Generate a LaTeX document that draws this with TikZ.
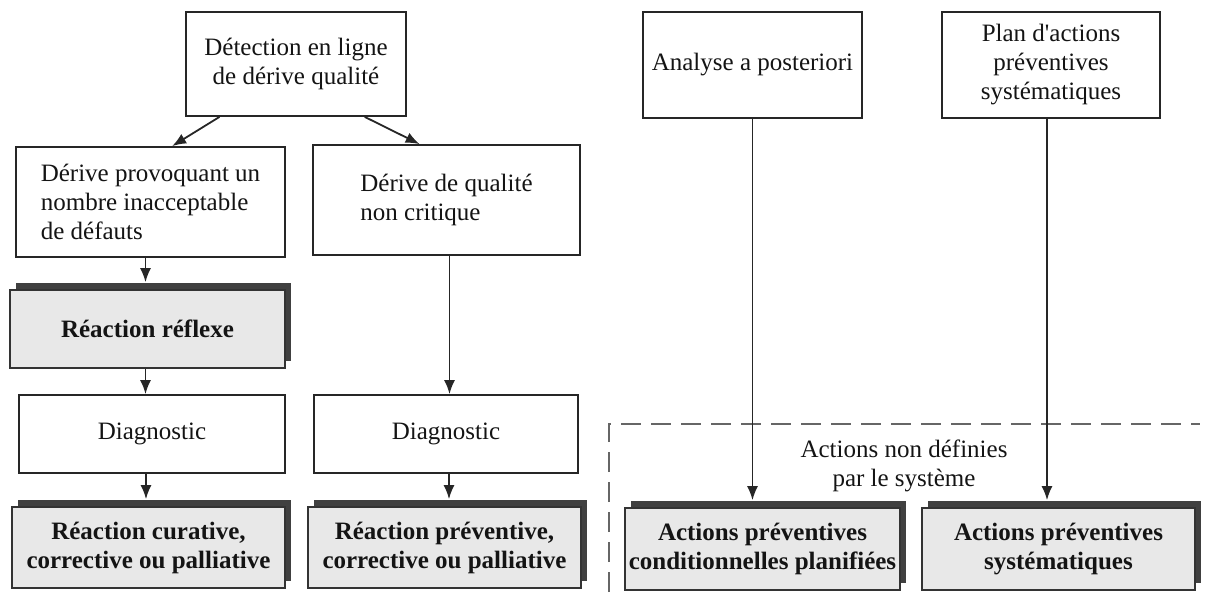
\documentclass[tikz,border=0pt]{standalone}
\usepackage{fontspec}
\setmainfont{Liberation Serif}
\usetikzlibrary{arrows.meta,shadows,calc}
\begin{document}
\begin{tikzpicture}[x=1pt,y=-1pt,
  every node/.style={font=\fontsize{25}{29}\selectfont, text=black!92},
  plainbox/.style={draw=black!85, line width=1.8pt, fill=white, inner sep=0pt, align=center},
  shadebox/.style={draw=black!80, line width=1.6pt, fill=black!9, inner sep=0pt, align=center,
    font=\fontsize{25}{29}\selectfont\bfseries,
    general shadow={fill=black!75, shadow xshift=6pt, shadow yshift=7pt}},
  arr/.style={draw=black!85, line width=1.8pt, -{Latex[length=14pt,width=11pt]}},
  zone/.style={draw=black!60, line width=1.2pt, dash pattern=on 20pt off 10pt}]
\useasboundingbox (0,0) rectangle (1205,598);

% left part
\node[plainbox, minimum width=220pt, minimum height=104pt] (det) at (296,64)
  {Détection en ligne\\de dérive qualité};
\node[plainbox, align=left, minimum width=269pt, minimum height=110pt] (dp) at (150.5,202)
  {Dérive provoquant un\\nombre inacceptable\\de défauts};
\node[plainbox, align=left, minimum width=267pt, minimum height=110pt] (dq) at (446.5,200)
  {Dérive de qualité\\non critique};
\node[shadebox, minimum width=275pt, minimum height=78pt] (refl) at (147.5,329)
  {Réaction réflexe};
\node[plainbox, minimum width=266pt, minimum height=78pt] (diagL) at (152,434) {Diagnostic};
\node[plainbox, minimum width=264pt, minimum height=78pt] (diagR) at (446,434) {Diagnostic};
\node[shadebox, minimum width=273pt, minimum height=81pt] (botL) at (148.5,547.5)
  {Réaction curative,\\corrective ou palliative};
\node[shadebox, minimum width=273pt, minimum height=81pt] (botR) at (444.5,547.5)
  {Réaction préventive,\\corrective ou palliative};

% right part
\node[plainbox, minimum width=219pt, minimum height=106pt] (ana) at (752.5,65)
  {Analyse a posteriori};
\node[plainbox, minimum width=218pt, minimum height=106pt] (plan) at (1051,65)
  {Plan d\textquotesingle actions\\préventives\\systématiques};
\node[shadebox, minimum width=275pt, minimum height=82pt] (ab1) at (762.5,549)
  {Actions préventives\\conditionnelles planifiées};
\node[shadebox, minimum width=273pt, minimum height=82pt] (ab2) at (1058.5,549)
  {Actions préventives\\systématiques};
\node[align=center] (nd) at (904,466) {Actions non définies\\par le système};

% dashed zone
\coordinate (z1) at (609,592);
\coordinate (z2) at (609,424);
\coordinate (z3) at (1200,424);
\draw[zone] (z1) -- (z2) -- (z3);

% connectors
\draw[arr] ($(det.south west)!0.155!(det.south east)$) -- ($(dp.north west)!0.58!(dp.north east)$);
\draw[arr] ($(det.south west)!0.81!(det.south east)$) -- ($(dq.north west)!0.40!(dq.north east)$);
\draw[arr] ([xshift=-5pt]dp.south) -- ([xshift=-5pt,yshift=7pt]dp.south |- refl.north);
\draw[arr] ([xshift=-2pt]refl.south) -- ([xshift=-2pt]refl.south |- diagL.north);
\draw[arr] ([xshift=3pt]dq.south) -- ([xshift=3pt]dq.south |- diagR.north);
\draw[arr] ([xshift=-6pt]diagL.south) -- ([xshift=-6pt,yshift=7pt]diagL.south |- botL.north);
\draw[arr] ([xshift=3pt]diagR.south) -- ([xshift=3pt,yshift=7pt]diagR.south |- botR.north);
\draw[arr] (ana.south) -- ([yshift=7pt]ana.south |- ab1.north);
\draw[arr] ([xshift=-4pt]plan.south) -- ([xshift=-4pt,yshift=7pt]plan.south |- ab2.north);
\end{tikzpicture}
\end{document}
